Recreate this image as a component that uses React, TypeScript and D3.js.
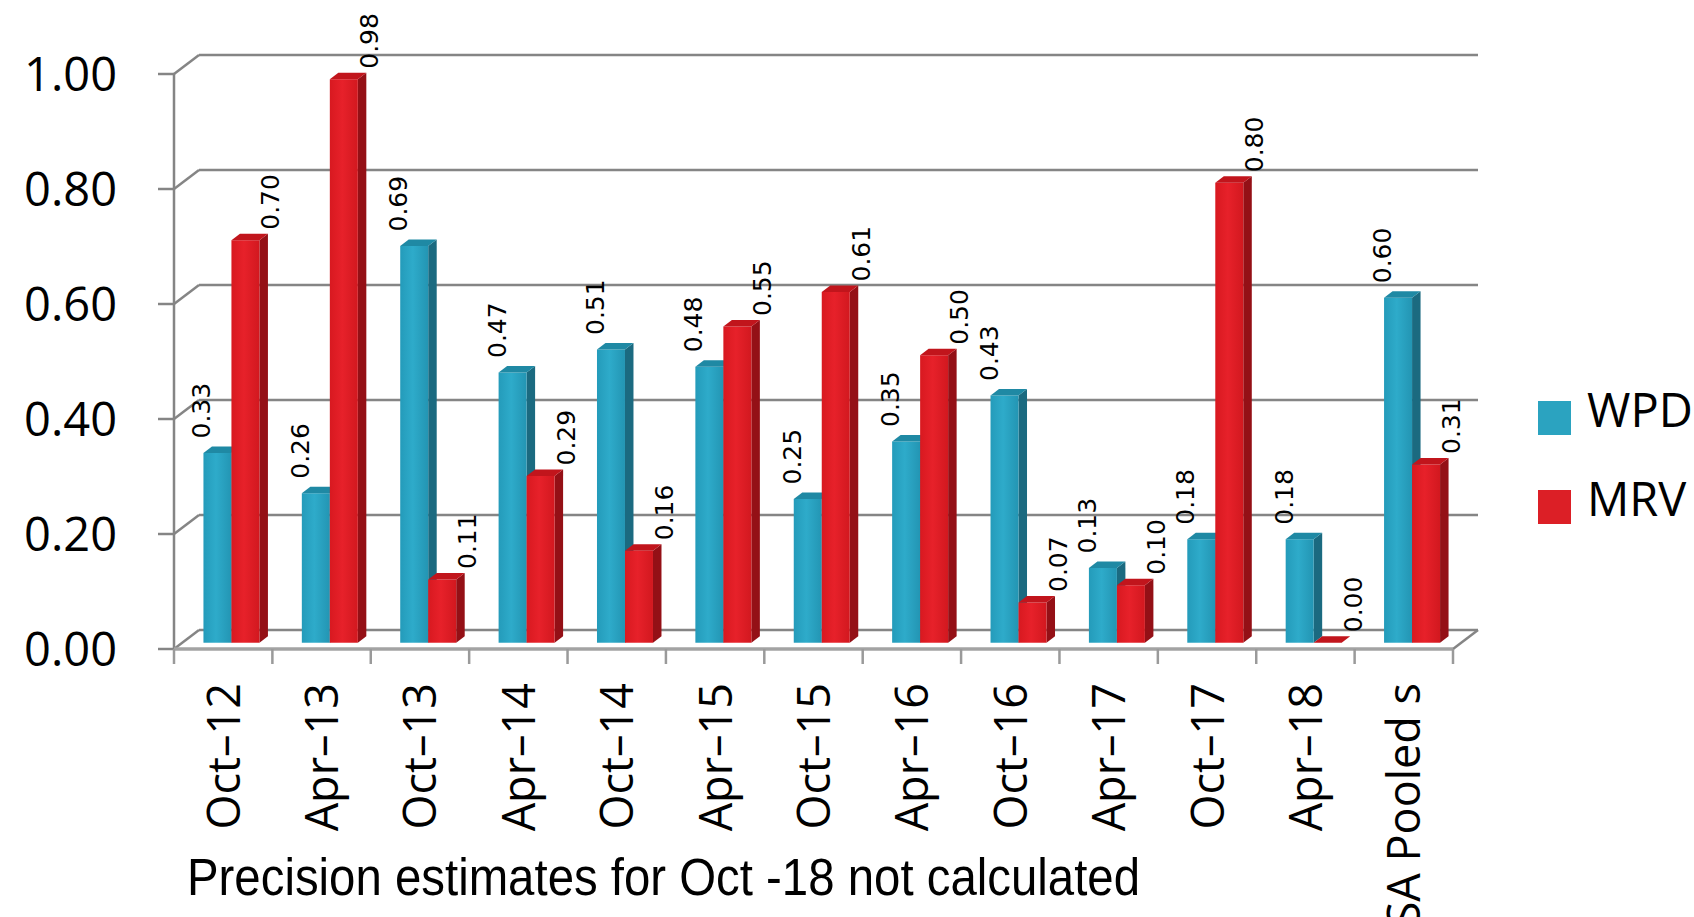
import React from 'react';
import * as d3 from 'd3';

// chart data
const categories = ['Oct–12', 'Apr–13', 'Oct–13', 'Apr–14', 'Oct–14', 'Apr–15', 'Oct–15', 'Apr–16', 'Oct–16', 'Apr–17', 'Oct–17', 'Apr–18', 'SA Pooled s'];
const wpd = [0.33, 0.26, 0.69, 0.47, 0.51, 0.48, 0.25, 0.35, 0.43, 0.13, 0.18, 0.18, 0.60];
const mrv = [0.70, 0.98, 0.11, 0.29, 0.16, 0.55, 0.61, 0.50, 0.07, 0.10, 0.80, 0.00, 0.31];
const seriesNames = ['WPD', 'MRV'];
const yTicks = [0, 0.2, 0.4, 0.6, 0.8, 1.0];
const note = 'Precision estimates for Oct -18 not calculated';

const W = 1694;
const H = 917;

// 3D depth offsets of the back wall
const DX = 25;
const DY = 19;
const Z0 = 0.33;
const Z1 = 0.67;

const palette = {
  WPD: { front: ['#249bba', '#2eabca', '#2395b3'], top: '#1f89a4', side: '#1b6a80', legend: '#2ba3c0' },
  MRV: { front: ['#d81920', '#e7212a', '#d2181f'], top: '#c1151c', side: '#941016', legend: '#dc1f26' },
};

const App: React.FC = () => {
  const x = d3.scaleBand<string>().domain(categories).range([174, 1453]);
  const inner = d3.scaleBand<string>().domain(seriesNames).range([0, x.bandwidth()]).paddingOuter(0.757);
  const y = d3.scaleLinear().domain([0, 1]).range([649, 74]);

  const x0 = x.range()[0];
  const x1 = x.range()[1];
  const grid = '#858585';

  const bars: React.ReactNode[] = [];
  const labels: React.ReactNode[] = [];

  categories.forEach((cat, i) => {
    [wpd[i], mrv[i]].forEach((v, s) => {
      const name = seriesNames[s];
      const col = palette[name as 'WPD' | 'MRV'];
      const bx = (x(cat) ?? 0) + (inner(name) ?? 0);
      const w = inner.bandwidth();
      const fx = bx + Z0 * DX;
      const bx1 = bx + Z1 * DX;
      const yt0 = y(v) - Z0 * DY;
      const yt1 = y(v) - Z1 * DY;
      const yb0 = y(0) - Z0 * DY;
      const yb1 = y(0) - Z1 * DY;
      bars.push(
        <g key={`${cat}-${name}`}>
          <polygon points={`${fx + w},${yt0} ${bx1 + w},${yt1} ${bx1 + w},${yb1} ${fx + w},${yb0}`} fill={col.side} />
          <rect x={fx} y={yt0} width={w} height={Math.max(0, yb0 - yt0)} fill={`url(#grad-${name})`} />
          <polygon points={`${fx},${yt0} ${fx + w},${yt0} ${bx1 + w},${yt1} ${bx1},${yt1}`} fill={col.top} />
        </g>
      );
      const cx = fx + w / 2 + (s === 0 ? -16 : 25);
      const gap = s === 0 ? 8 : 4;
      labels.push(
        <text
          key={`lab-${cat}-${name}`}
          transform={`translate(${cx + 9},${yt1 - gap}) rotate(-90)`}
          fontFamily="'DejaVu Sans', sans-serif"
          fontSize={25}
          fill="#000"
        >
          {d3.format('.2f')(v)}
        </text>
      );
    });
  });

  return (
    <svg width={W} height={H} style={{ position: 'absolute', left: 0, top: 0, background: '#fff' }}>
      <defs>
        {seriesNames.map(n => {
          const c = palette[n as 'WPD' | 'MRV'].front;
          return (
            <linearGradient key={n} id={`grad-${n}`} x1="0" x2="1" y1="0" y2="0">
              <stop offset="0%" stopColor={c[0]} />
              <stop offset="45%" stopColor={c[1]} />
              <stop offset="100%" stopColor={c[2]} />
            </linearGradient>
          );
        })}
      </defs>

      {/* back wall gridlines and side wall diagonals */}
      {yTicks.map(t => (
        <g key={`grid-${t}`} stroke={grid} strokeWidth={2.5} fill="none">
          <line x1={x0 + DX} x2={x1 + DX} y1={y(t) - DY} y2={y(t) - DY} />
          <line x1={x0} x2={x0 + DX} y1={y(t)} y2={y(t) - DY} />
          <line x1={x0 - 16} x2={x0} y1={y(t)} y2={y(t)} />
        </g>
      ))}
      {/* floor */}
      <line x1={x1} x2={x1 + DX} y1={y(0)} y2={y(0) - DY} stroke={grid} strokeWidth={2.5} />
      <line x1={x0} x2={x0} y1={y(1)} y2={y(0)} stroke={grid} strokeWidth={2.5} />

      {bars}

      <line x1={x0} x2={x1} y1={y(0)} y2={y(0)} stroke="#a3a3a3" strokeWidth={3.5} />
      {d3.range(categories.length + 1).map(k => (
        <line
          key={`xt-${k}`}
          x1={x0 + k * x.step()}
          x2={x0 + k * x.step()}
          y1={y(0)}
          y2={y(0) + 15}
          stroke="#9a9a9a"
          strokeWidth={2.5}
        />
      ))}

      {labels}

      {/* y axis labels */}
      {yTicks.map(t => (
        <text
          key={`yl-${t}`}
          x={117}
          y={y(t) + 16.5}
          textAnchor="end"
          fontFamily="'Open Sans', sans-serif"
          fontSize={47}
          fill="#000"
        >
          {d3.format('.2f')(t)}
        </text>
      ))}

      {/* category labels */}
      {categories.map(c => (
        <text
          key={`cl-${c}`}
          transform={`translate(${(x(c) ?? 0) + x.bandwidth() / 2 + 16.5},683) rotate(-90)`}
          textAnchor="end"
          fontFamily="'Open Sans', sans-serif"
          fontSize={45}
          fill="#000"
        >
          {c}
        </text>
      ))}

      {/* legend */}
      {seriesNames.map((n, k) => (
        <g key={`leg-${n}`} transform={`translate(1538,${401 + k * 89})`}>
          <rect width={33} height={34} fill={palette[n as 'WPD' | 'MRV'].legend} />
          <text x={49} y={26} fontFamily="'Open Sans', sans-serif" fontSize={47} fill="#000">
            {n}
          </text>
        </g>
      ))}

      <text
        x={187}
        y={895}
        fontFamily="'Liberation Sans', Arial, sans-serif"
        fontSize={51}
        textLength={953}
        lengthAdjust="spacingAndGlyphs"
        fill="#000"
      >
        {note}
      </text>
    </svg>
  );
};

export default App;
